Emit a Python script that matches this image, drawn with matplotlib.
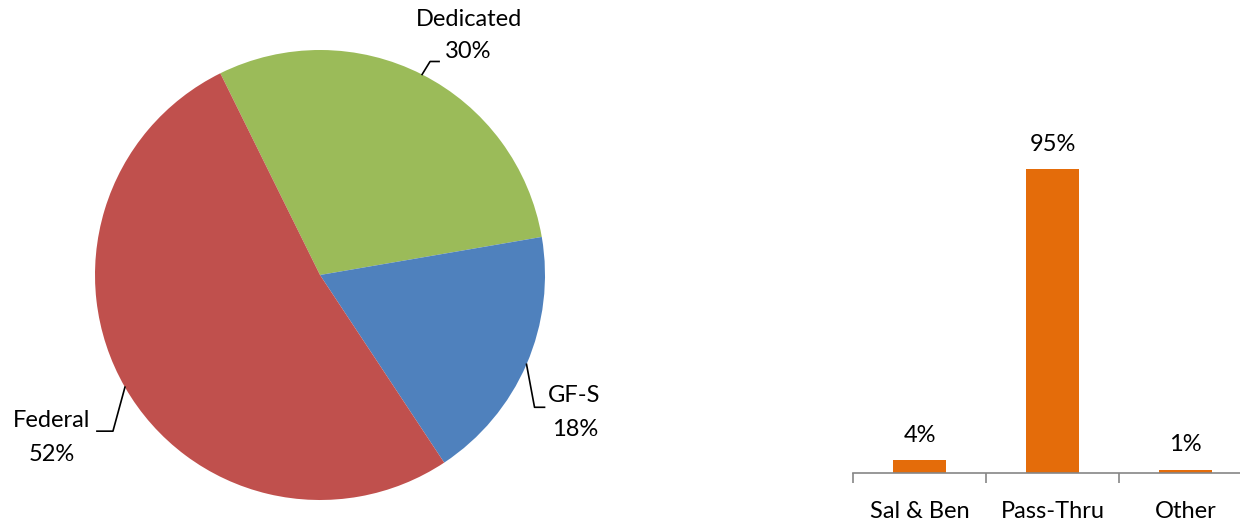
import numpy as np
import matplotlib
matplotlib.use("Agg")
import matplotlib.pyplot as plt

plt.rcParams['font.family'] = ['Lato', 'DejaVu Sans']

# ---- data ----
pie_labels = ["Dedicated", "GF-S", "Federal"]
pie_values = [29.6, 18.4, 52.0]
pie_colors = ["#9BBB59", "#4F81BD", "#C0504D"]

bar_categories = ["Sal & Ben", "Pass-Thru", "Other"]
bar_values = [4, 95, 1]
bar_color = "#E46C0A"

W, H = 1240, 521
FS = 17
fig = plt.figure(figsize=(W / 100, H / 100), dpi=100)

# ---- pie ----
cx, cy, R = 320, 275, 225
axp = fig.add_axes([(cx - R) / W, (H - cy - R) / H, 2 * R / W, 2 * R / H])
wedges, _ = axp.pie(pie_values, colors=pie_colors, startangle=116.3,
                    counterclock=False, radius=1.0, center=(0, 0),
                    wedgeprops=dict(linewidth=0))
axp.set_xlim(-1, 1)
axp.set_ylim(-1, 1)
axp.set_aspect('equal')
axp.axis('off')

# label layout offsets in pixels relative to the wedge edge point
layout = {
    "Dedicated": dict(elbow=(8, 13), end=(17, 13), name=(47, 55), pct=(46, 23)),
    "GF-S": dict(elbow=(8, -43), end=(18, -43), name=(48, -31), pct=(49, -65)),
    "Federal": dict(elbow=(-12, -44), end=(-28, -44), name=(-73, -33), pct=(-73, -67)),
}

def px(v):
    return v / R

total = sum(pie_values)
for w, lab, val in zip(wedges, pie_labels, pie_values):
    mid = np.deg2rad((w.theta1 + w.theta2) / 2)
    x0, y0 = np.cos(mid), np.sin(mid)
    L = layout[lab]
    ex, ey = x0 + px(L['elbow'][0]), y0 + px(L['elbow'][1])
    tx, ty = x0 + px(L['end'][0]), y0 + px(L['end'][1])
    axp.plot([x0, ex, tx], [y0, ey, ty], color='black', lw=1.2, clip_on=False)
    axp.text(x0 + px(L['name'][0]), y0 + px(L['name'][1]), lab, ha='center', va='center',
             fontsize=FS, color='black', clip_on=False)
    axp.text(x0 + px(L['pct'][0]), y0 + px(L['pct'][1]), f"{round(val / total * 100)}%",
             ha='center', va='center', fontsize=FS, color='black', clip_on=False)

# ---- bars ----
x_left, x_step, base_y = 853, 133, 473
ax_h = 320  # pixels for 100%
axb = fig.add_axes([x_left / W, (H - base_y) / H, 3 * x_step / W, ax_h / H])
xs = np.arange(len(bar_categories))
axb.bar(xs, bar_values, width=0.4, color=bar_color)
axb.set_xlim(-0.5, 2.5)
axb.set_ylim(0, 100)
for x, v in zip(xs, bar_values):
    axb.text(x, v + 4.5, f"{v}%", ha='center', va='bottom', fontsize=FS)
for s in ['top', 'right', 'left']:
    axb.spines[s].set_visible(False)
axb.spines['bottom'].set_color('#868686')
axb.spines['bottom'].set_linewidth(1.2)
axb.set_yticks([])
axb.set_xticks(xs)
axb.set_xticklabels(bar_categories, fontsize=FS)
axb.tick_params(axis='x', length=0, pad=20)
axb.set_xticks([-0.5, 0.5, 1.5, 2.5], minor=True)
axb.tick_params(axis='x', which='minor', length=7, width=1.2, color='#868686')

fig.savefig("out.png", dpi=100)
